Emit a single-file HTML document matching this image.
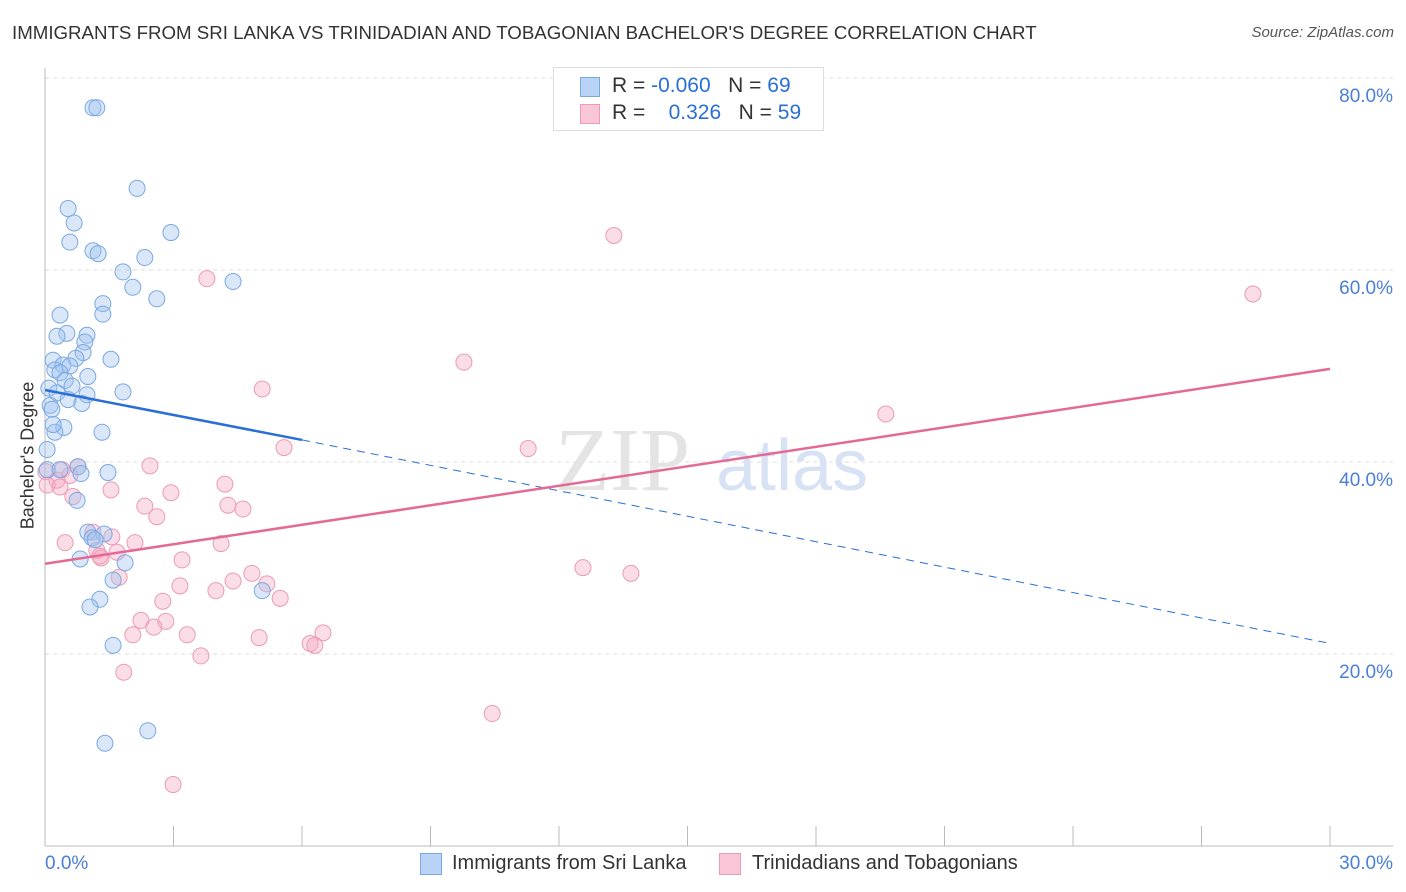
<!DOCTYPE html>
<html><head><meta charset="utf-8"><style>
body{margin:0;background:#fff;font-family:"Liberation Sans",sans-serif;}
#wrap{position:relative;width:1406px;height:892px;overflow:hidden;}
.t{position:absolute;white-space:nowrap;}
</style></head><body>
<div id="wrap">
<div class="t" style="left:12px;top:22px;font-size:18.7px;color:#333;">IMMIGRANTS FROM SRI LANKA VS TRINIDADIAN AND TOBAGONIAN BACHELOR'S DEGREE CORRELATION CHART</div>
<div class="t" style="right:12px;top:24px;font-size:15px;color:#555;font-style:italic;">Source: ZipAtlas.com</div>
<svg id="plot" width="1406" height="892" style="position:absolute;left:0;top:0"></svg>
</div>
<script>
const blueX=[1.12,1.21,2.15,0.54,0.68,2.94,0.58,1.12,1.24,2.33,1.82,4.39,2.05,2.61,1.35,1.35,0.35,0.51,0.28,0.98,0.93,0.89,0.19,0.72,1.54,0.42,0.23,0.58,0.35,1.0,0.47,0.63,1.82,0.09,0.28,0.98,0.54,0.86,0.12,0.16,0.44,0.23,1.33,0.05,0.77,1.47,0.84,0.75,1.0,1.38,1.1,1.17,0.82,1.87,1.59,1.28,1.05,5.07,1.59,2.4,1.4,0.05,0.35,0.19];
const blueY=[76.9,76.9,68.5,66.4,64.9,63.9,62.9,62.0,61.7,61.3,59.8,58.8,58.2,57.0,56.5,55.4,55.3,53.4,53.1,53.2,52.5,51.4,50.6,50.8,50.7,50.1,49.6,50.0,49.3,48.9,48.5,47.9,47.3,47.7,47.2,47.0,46.5,46.1,45.9,45.5,43.6,43.1,43.1,41.3,39.5,38.9,38.8,36.0,32.7,32.5,32.1,31.9,29.9,29.5,27.7,25.7,24.9,26.6,20.9,12.0,10.7,39.2,39.2,43.9];
const pinkX=[13.28,3.78,28.2,9.78,5.07,19.63,5.58,11.28,2.45,0.77,0.4,0.02,0.58,0.28,0.05,0.35,4.2,1.54,2.94,0.65,4.27,2.33,4.62,2.61,1.12,1.56,0.47,2.1,4.11,1.21,1.68,1.31,3.2,12.56,13.68,4.83,1.73,4.39,5.18,3.15,3.99,5.49,2.75,2.24,2.82,2.54,3.32,2.05,5.0,6.49,6.19,6.3,3.64,1.84,10.44,2.99,1.28];
const pinkY=[63.6,59.1,57.5,50.4,47.6,45.0,41.5,41.4,39.6,39.5,39.2,39.0,38.6,38.1,37.6,37.4,37.7,37.1,36.8,36.4,35.5,35.4,35.1,34.3,32.7,32.2,31.6,31.6,31.5,30.8,30.6,30.0,29.8,29.0,28.4,28.4,28.0,27.6,27.3,27.1,26.6,25.8,25.5,23.5,23.4,22.8,22.0,22.0,21.7,22.2,21.1,20.9,19.8,18.1,13.8,6.4,30.2];
const yTicks=[20,40,60,80];
const yTickLabels=["20.0%","40.0%","60.0%","80.0%"];
const blueTrend=[47.5,42.3,21.1]; // at x=0, 6, 30
const pinkTrend=[29.4,49.7]; // at x=0, 30

const sx=v=>45+v/30*1285;
const sy=v=>846-v*9.6;
const svg=document.getElementById('plot');
const NS='http://www.w3.org/2000/svg';
function mk(tag,attrs){const e=document.createElementNS(NS,tag);for(const k in attrs)e.setAttribute(k,attrs[k]);svg.appendChild(e);return e;}

yTicks.forEach((t,i)=>{
 const g=mk('line',{x1:45,x2:1393,y1:sy(t),y2:sy(t),stroke:'#ddd','stroke-dasharray':'4,4'});
 
 
 const l=mk('text',{x:1393,y:sy(t)+24,'text-anchor':'end','font-size':19,fill:'#4a7fd4','font-family':'Liberation Sans'});
 l.textContent=yTickLabels[i];
 
 
});
const ax=mk('line',{x1:45,x2:45,y1:68,y2:846,stroke:'#bbb'});


const xa=mk('line',{x1:45,x2:1393,y1:846,y2:846,stroke:'#bbb'});


for(let i=0;i<=10;i++){
 const tk=mk('line',{x1:sx(i*3),x2:sx(i*3),y1:826,y2:846,stroke:'#bbb'});
 
 
}
const wm=mk('text',{x:555,y:490,'font-size':90,fill:'#e4e4e4','font-family':'Liberation Serif'});wm.textContent='ZIP';


const wm2=mk('text',{x:716,y:490,'font-size':72,fill:'#d7e3f4','font-family':'Liberation Sans'});wm2.textContent='atlas';



pinkX.forEach((x,i)=>{
 const c=mk('circle',{cx:sx(x),cy:sy(pinkY[i]),r:8,fill:'rgba(244,170,194,0.4)',stroke:'#ec9ab5','stroke-width':1});
 
 
});
blueX.forEach((x,i)=>{
 const c=mk('circle',{cx:sx(x),cy:sy(blueY[i]),r:8,fill:'rgba(160,196,240,0.4)',stroke:'#7aa8e2','stroke-width':1});
 
 
});
const bl=mk('line',{x1:sx(0),y1:sy(blueTrend[0]),x2:sx(6),y2:sy(blueTrend[1]),stroke:'#2a6fd6','stroke-width':2.5});


const bd=mk('line',{x1:sx(6),y1:sy(blueTrend[1]),x2:sx(30),y2:sy(blueTrend[2]),stroke:'#2a6fd6','stroke-width':1,'stroke-dasharray':'8,6'});


const pl=mk('line',{x1:sx(0),y1:sy(pinkTrend[0]),x2:sx(30),y2:sy(pinkTrend[1]),stroke:'#e46a95','stroke-width':2.5});


</script>
<div class="t" style="left:-46px;top:445px;font-size:18px;color:#333;transform:rotate(-90deg);">Bachelor's Degree</div>
<div class="t" style="left:45px;top:853px;font-size:19px;color:#4a7fd4;">0.0%</div>
<div class="t" style="right:13px;top:853px;font-size:19px;color:#4a7fd4;">30.0%</div>
<div style="position:absolute;left:553px;top:67px;width:269px;height:62px;border:1px solid #ddd;background:#fff;font-size:21px;">
 <div style="position:absolute;left:26px;top:9px;width:18px;height:18px;background:#b8d3f5;border:1px solid #7aa8e2;"></div>
 <div class="t" style="left:58px;top:6px;color:#333;">R = <span style="color:#2a6fd6">-0.060</span>&nbsp;&nbsp;&nbsp;N = <span style="color:#2a6fd6">69</span></div>
 <div style="position:absolute;left:26px;top:36px;width:18px;height:18px;background:#f8c6d6;border:1px solid #ec9ab5;"></div>
 <div class="t" style="left:58px;top:33px;color:#333;">R = &nbsp;&nbsp;&nbsp;<span style="color:#2a6fd6">0.326</span>&nbsp;&nbsp;&nbsp;N = <span style="color:#2a6fd6">59</span></div>
</div>
<div style="position:absolute;left:420px;top:853px;">
 <div style="position:absolute;left:0;top:0;width:20px;height:20px;background:#b8d3f5;border:1px solid #7aa8e2;"></div>
 <div class="t" style="left:32px;top:-1px;font-size:20px;color:#333;">Immigrants from Sri Lanka</div>
</div>
<div style="position:absolute;left:719px;top:853px;">
 <div style="position:absolute;left:0;top:0;width:20px;height:20px;background:#f8c6d6;border:1px solid #ec9ab5;"></div>
 <div class="t" style="left:33px;top:-1px;font-size:20px;color:#333;">Trinidadians and Tobagonians</div>
</div>
</body></html>
